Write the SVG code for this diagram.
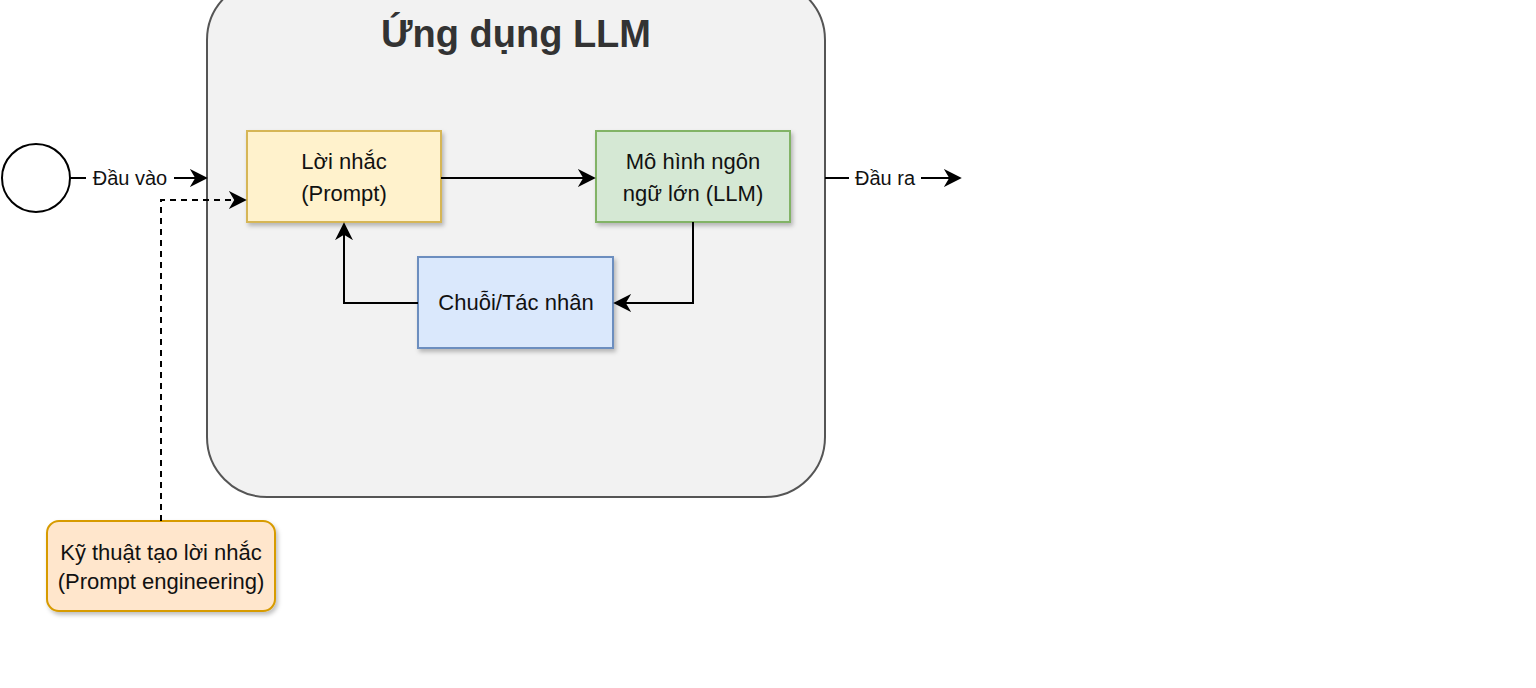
<svg xmlns="http://www.w3.org/2000/svg" width="1536" height="688" viewBox="0 0 1536 688">
<style>
text{font-family:"Liberation Sans",Arial,sans-serif;fill:#111;text-anchor:middle}
.t{font-size:22px}
.l{font-size:20px}
.e{fill:none;stroke:#000;stroke-width:2}
</style>
<defs>
<marker id="a" viewBox="0 0 10 10" refX="9" refY="5" markerWidth="9" markerHeight="9" markerUnits="userSpaceOnUse" orient="auto"><path d="M0,0 L10,5 L0,10 L3,5 z" fill="#000"/></marker>
<marker id="b" viewBox="0 0 10 10" refX="9" refY="5" markerWidth="18" markerHeight="18" markerUnits="userSpaceOnUse" orient="auto"><path d="M0,0 L10,5 L0,10 L3,5 z" fill="#000"/></marker>
<filter id="s" x="-10%" y="-10%" width="130%" height="140%"><feDropShadow dx="2" dy="3" stdDeviation="2" flood-opacity="0.25"/></filter>
</defs>
<rect width="1536" height="688" fill="#fff"/>
<g id="app"><rect x="207" y="-20" width="618" height="517" rx="60" fill="#f2f2f2" stroke="#555" stroke-width="2"/>
<text x="516" y="47" style="font-size:38px;font-weight:bold;fill:#333">Ứng dụng LLM</text></g>
<g id="input"><circle cx="36" cy="178" r="34" fill="#fff" stroke="#000" stroke-width="2"/></g>
<g id="prompt"><rect x="247" y="131" width="194" height="91" fill="#fff2cc" stroke="#d6b656" stroke-width="2" filter="url(#s)"/>
<text class="t" x="344" y="169">Lời nhắc</text><text class="t" x="344" y="201">(Prompt)</text></g>
<g id="llm"><rect x="596" y="131" width="194" height="91" fill="#d5e8d4" stroke="#82b366" stroke-width="2" filter="url(#s)"/>
<text class="t" x="693" y="169">Mô hình ngôn</text><text class="t" x="693" y="201">ngữ lớn (LLM)</text></g>
<g id="chain"><rect x="418" y="257" width="195" height="91" fill="#dae8fc" stroke="#6c8ebf" stroke-width="2" filter="url(#s)"/>
<text class="t" x="516" y="310">Chuỗi/Tác nhân</text></g>
<g id="pe"><rect x="47" y="521" width="228" height="90" rx="12" fill="#ffe6cc" stroke="#d79b00" stroke-width="2" filter="url(#s)"/>
<text class="t" x="161" y="560">Kỹ thuật tạo lời nhắc</text><text class="t" x="161" y="589">(Prompt engineering)</text></g>
<g id="connectors">
<path class="e" d="M70,178 H206" marker-end="url(#b)"/>
<rect x="86" y="164" width="88" height="26" fill="#fff"/>
<text class="l" x="130" y="185">Đầu vào</text>
<path class="e" d="M441,178 H594" marker-end="url(#b)"/>
<path class="e" d="M693,222 V303 H615" marker-end="url(#b)"/>
<path class="e" d="M418,303 H344 V224" marker-end="url(#b)"/>
<path class="e" d="M161,521 V200 H245" stroke-dasharray="6,5" marker-end="url(#b)"/>
<path class="e" d="M825,178 H960" marker-end="url(#b)"/>
<rect x="849" y="164" width="72" height="26" fill="#fff"/>
<text class="l" x="885" y="185">Đầu ra</text>
</g>
</svg>
